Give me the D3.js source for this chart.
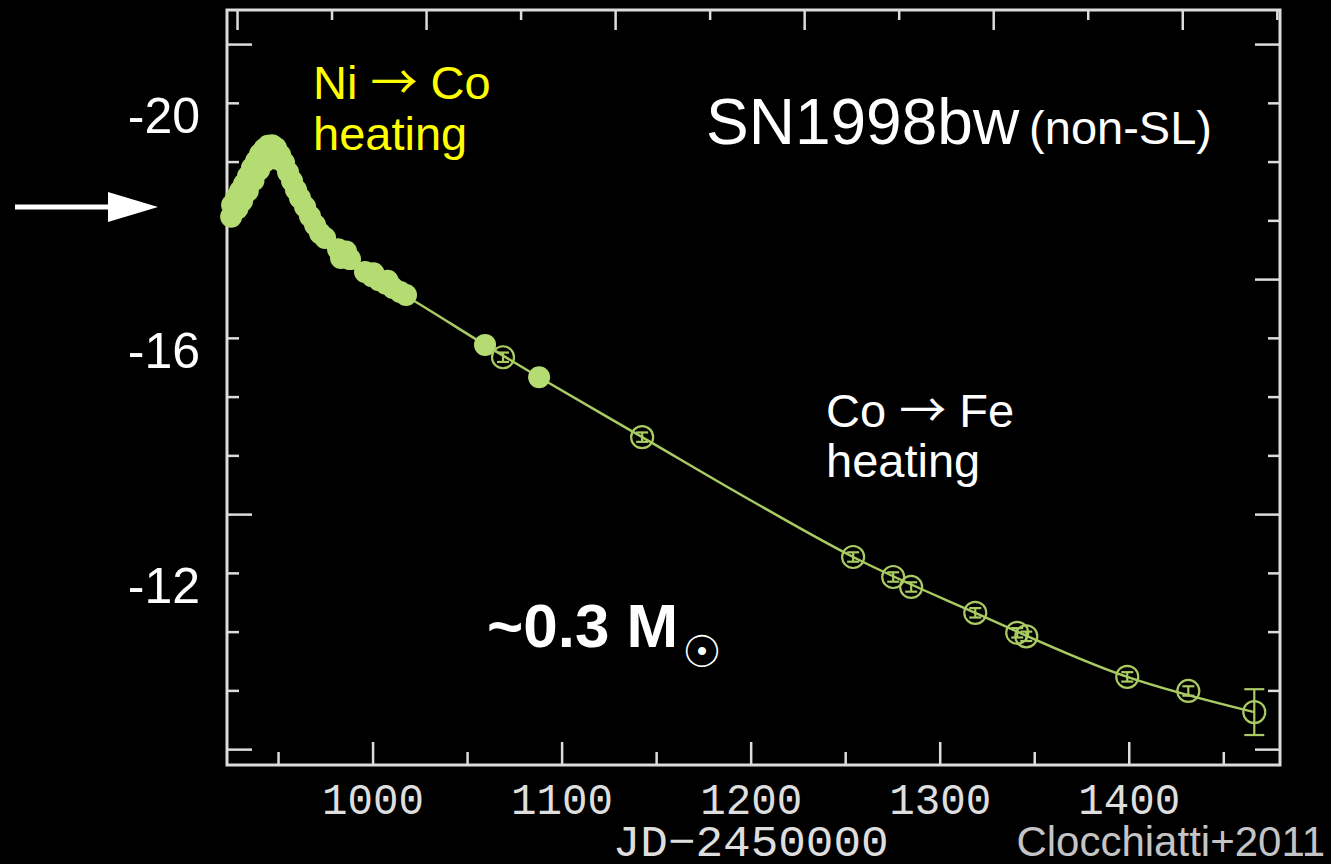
<!DOCTYPE html>
<html>
<head>
<meta charset="utf-8">
<script src="https://cdn.jsdelivr.net/npm/d3@7"></script>
<style>
  html, body { margin: 0; padding: 0; background: #000; }
  svg { display: block; }
</style>
</head>
<body>
<svg id="chart" width="1331" height="864"></svg>
<script>
// SN1998bw light curve: absolute magnitude against Julian date

// Early, densely sampled photometry (filled symbols)
const earlyJD  = [925.7, 927.8, 929.9, 932.0, 934.1, 936.2, 938.4, 940.5, 942.6, 944.7, 946.8, 948.9,
                  925.2, 928.5, 931.0, 934.0, 937.0, 940.0, 943.0, 946.0, 949.0,
                  951.1, 953.2, 955.3, 957.4, 959.5, 961.6, 964.3, 966.9, 969.6, 972.2, 974.9,
                  981.7, 983.3, 984.9, 988.1, 986.0,
                  996.0, 999.7, 1003.4, 1007.1, 1010.8, 1014.6, 1017.7, 1000.5, 1008.0,
                  1059.5, 1088.1];
const earlyMag = [-18.26, -18.38, -18.50, -18.62, -18.75, -18.89, -19.01, -19.13, -19.21, -19.27, -19.28, -19.23,
                  -18.06, -18.20, -18.33, -18.50, -18.68, -18.86, -19.00, -19.08, -19.05,
                  -19.11, -18.98, -18.82, -18.67, -18.52, -18.38, -18.23, -18.07, -17.92, -17.78, -17.70,
                  -17.51, -17.36, -17.41, -17.34, -17.47,
                  -17.12, -17.05, -16.98, -16.92, -16.85, -16.78, -16.73, -17.10, -16.97,
                  -15.88, -15.33];

// Late-time photometry (open symbols with error bars)
const lateJD  = [1069.0, 1142.6, 1254.2, 1275.4, 1284.9, 1318.8, 1341.0, 1345.8, 1399.2, 1431.5, 1466.4];
const lateMag = [-15.67, -14.31, -12.27, -11.93, -11.76, -11.32, -10.98, -10.92, -10.23, -9.99, -9.63];
const lateErr = [0.08, 0.08, 0.08, 0.08, 0.08, 0.08, 0.08, 0.08, 0.08, 0.08, 0.39];

// Radioactive-decay model curve
const modelJD  = [1012.0, 1021.4, 1059.5, 1088.1, 1142.6, 1199.7, 1254.2, 1318.8, 1399.2, 1466.4];
const modelMag = [-16.82, -16.64, -15.88, -15.33, -14.31, -13.24, -12.27, -11.32, -10.23, -9.63];

// Axis ticks
const xTicks      = [950, 1000, 1050, 1100, 1150, 1200, 1250, 1300, 1350, 1400, 1450];
const xTickLabels = [1000, 1100, 1200, 1300, 1400];
const dayTicks    = [0, 50, 100, 150, 200, 250, 300, 350, 400, 450, 500, 550];
const burstJD     = 928.3;
const yTicks      = [-21, -20, -19, -18, -17, -16, -15, -14, -13, -12, -11, -10, -9];
const yTickLabels = [-20, -16, -12];

const svg = d3.select("#chart");
const frame = { left: 227, right: 1280, top: 10, bottom: 765 };

const x = d3.scaleLinear().domain([923, 1480]).range([frame.left, frame.right]);
const xDays = d3.scaleLinear().domain([923 - burstJD, 1480 - burstJD]).range([frame.left, frame.right]);
const y = d3.scaleLinear().domain([-21.58, -8.73]).range([frame.top, frame.bottom]);

const frameColor = "#dcdcdc";
const green = "#b4dc72";
const greenLine = "#a9cb62";

// ---- tick marks on all four sides (pointing inward) ----
function styleTicks(g, lenFn) {
  g.select(".domain").remove();
  g.selectAll(".tick line")
    .attr("stroke", frameColor)
    .attr("stroke-width", 2.5)
    .each(function(d) { lenFn(d3.select(this), d); });
  g.selectAll(".tick text").remove();
}

svg.append("g")
  .attr("transform", `translate(0,${frame.bottom})`)
  .call(d3.axisBottom(x).tickValues(xTicks).tickFormat(""))
  .call(g => styleTicks(g, (l, d) => l.attr("y2", d % 100 === 0 ? -23 : -13)));

svg.append("g")
  .attr("transform", `translate(0,${frame.top})`)
  .call(d3.axisTop(xDays).tickValues(dayTicks).tickFormat(""))
  .call(g => styleTicks(g, (l, d) => l.attr("y2", d % 100 === 0 ? 20 : 10)));

const isMajorY = d => (d + 21) % 4 === 0;

svg.append("g")
  .attr("transform", `translate(${frame.left},0)`)
  .call(d3.axisLeft(y).tickValues(yTicks.filter(d => d !== -17)).tickFormat(""))
  .call(g => styleTicks(g, (l, d) => l.attr("x2", isMajorY(d) ? 25 : 12)));

svg.append("g")
  .attr("transform", `translate(${frame.right},0)`)
  .call(d3.axisRight(y).tickValues(yTicks).tickFormat(""))
  .call(g => styleTicks(g, (l, d) => l.attr("x2", isMajorY(d) ? -25 : -12)));

// ---- plot frame ----
svg.append("rect")
  .attr("x", frame.left).attr("y", frame.top)
  .attr("width", frame.right - frame.left)
  .attr("height", frame.bottom - frame.top)
  .attr("fill", "none")
  .attr("stroke", frameColor)
  .attr("stroke-width", 3);

// ---- x tick labels and title (PGPLOT-like mono font) ----
const xLab = svg.append("g")
  .attr("transform", `translate(0,${frame.bottom})`)
  .call(d3.axisBottom(x).tickValues(xTickLabels).tickSize(0).tickFormat(d => String(d)));
xLab.select(".domain").remove();
xLab.selectAll(".tick text")
  .attr("y", 49).attr("dy", null)
  .attr("fill", "#dedede")
  .attr("font-family", "'Liberation Mono', monospace")
  .attr("font-size", 45)
  .attr("textLength", 102)
  .attr("lengthAdjust", "spacingAndGlyphs");

svg.append("text")
  .attr("x", x(1200)).attr("y", 856)
  .attr("text-anchor", "middle")
  .attr("fill", "#dedede")
  .attr("font-family", "'Liberation Mono', monospace")
  .attr("font-size", 45)
  .attr("textLength", 276)
  .attr("lengthAdjust", "spacingAndGlyphs")
  .text("JD\u22122450000");

// ---- y labels ----
const yLab = svg.append("g")
  .attr("transform", "translate(200,0)")
  .call(d3.axisLeft(y).tickValues(yTickLabels).tickSize(0).tickPadding(0).tickFormat(d => String(d)));
yLab.select(".domain").remove();
yLab.selectAll(".tick text")
  .attr("dy", "0.6em")
  .attr("fill", "#ffffff")
  .attr("font-family", "'Liberation Sans', Arial, sans-serif")
  .attr("font-size", 50);

// ---- model curve ----
const model = modelJD.map((d, i) => ({ jd: d, mag: modelMag[i] }));
svg.append("path")
  .datum(model)
  .attr("fill", "none")
  .attr("stroke", greenLine)
  .attr("stroke-width", 2.5)
  .attr("d", d3.line().x(d => x(d.jd)).y(d => y(d.mag)).curve(d3.curveMonotoneX));

// ---- early filled points ----
const early = earlyJD.map((d, i) => ({ jd: d, mag: earlyMag[i] }));
svg.append("g").selectAll("circle")
  .data(early)
  .join("circle")
  .attr("cx", d => x(d.jd))
  .attr("cy", d => y(d.mag))
  .attr("r", 11)
  .attr("fill", green);

// ---- late open points with error bars ----
const late = lateJD.map((d, i) => ({ jd: d, mag: lateMag[i], err: lateErr[i] }));
const lg = svg.append("g").attr("stroke", greenLine).attr("fill", "none").attr("stroke-width", 2.2);
const pts = lg.selectAll("g").data(late).join("g")
  .attr("transform", d => `translate(${x(d.jd)},${y(d.mag)})`);
pts.append("circle").attr("r", 11);
pts.append("line")
  .attr("x1", 0).attr("x2", 0)
  .attr("y1", d => y(d.mag - d.err) - y(d.mag))
  .attr("y2", d => y(d.mag + d.err) - y(d.mag));
pts.append("line")
  .attr("x1", d => d.err > 0.2 ? -10 : -6).attr("x2", d => d.err > 0.2 ? 10 : 6)
  .attr("y1", d => y(d.mag - d.err) - y(d.mag))
  .attr("y2", d => y(d.mag - d.err) - y(d.mag));
pts.append("line")
  .attr("x1", d => d.err > 0.2 ? -10 : -6).attr("x2", d => d.err > 0.2 ? 10 : 6)
  .attr("y1", d => y(d.mag + d.err) - y(d.mag))
  .attr("y2", d => y(d.mag + d.err) - y(d.mag));

// ---- annotations ----
const sans = "'Liberation Sans', Arial, sans-serif";

// "A → B" label with a long, thin arrow glyph
function arrowLabel(xPos, yPos, from, to, color) {
  const t = svg.append("text").attr("x", xPos).attr("y", yPos)
    .attr("fill", color).attr("font-family", sans).attr("font-size", 47);
  t.append("tspan").text(from + " ");
  t.append("tspan").attr("font-family", "'Noto Sans CJK SC', sans-serif").text("\u2192");
  t.append("tspan").text(" " + to);
}

arrowLabel(313, 99, "Ni", "Co", "#ffff00");
svg.append("text").attr("x", 313).attr("y", 150)
  .attr("fill", "#ffff00").attr("font-family", sans).attr("font-size", 47)
  .text("heating");

const title = svg.append("text").attr("x", 706).attr("y", 144)
  .attr("fill", "#ffffff").attr("font-family", sans);
title.append("tspan").attr("font-size", 64).text("SN1998bw");
title.append("tspan").attr("font-size", 47).attr("dx", 10).text("(non-SL)");

arrowLabel(826, 427, "Co", "Fe", "#ffffff");
svg.append("text").attr("x", 826).attr("y", 477)
  .attr("fill", "#ffffff").attr("font-family", sans).attr("font-size", 47)
  .text("heating");

const mass = svg.append("text").attr("x", 487).attr("y", 647)
  .attr("fill", "#ffffff").attr("font-family", sans);
mass.append("tspan").attr("font-size", 62).attr("font-weight", "bold").text("~0.3 M");
mass.append("tspan").attr("font-size", 44).attr("dx", 4).attr("dy", 20)
  .attr("font-family", "'DejaVu Sans', sans-serif").text("\u2609");

svg.append("text").attr("x", 1325).attr("y", 856)
  .attr("text-anchor", "end")
  .attr("fill", "#c4c4c4").attr("font-family", sans).attr("font-size", 42)
  .text("Clocchiatti+2011");

// arrow pointing at the peak
svg.append("line")
  .attr("x1", 15).attr("x2", 112).attr("y1", 207).attr("y2", 207)
  .attr("stroke", "#ffffff").attr("stroke-width", 5);
svg.append("path")
  .attr("d", "M108,192 L158,207 L108,222 Z")
  .attr("fill", "#ffffff");
</script>
</body>
</html>
